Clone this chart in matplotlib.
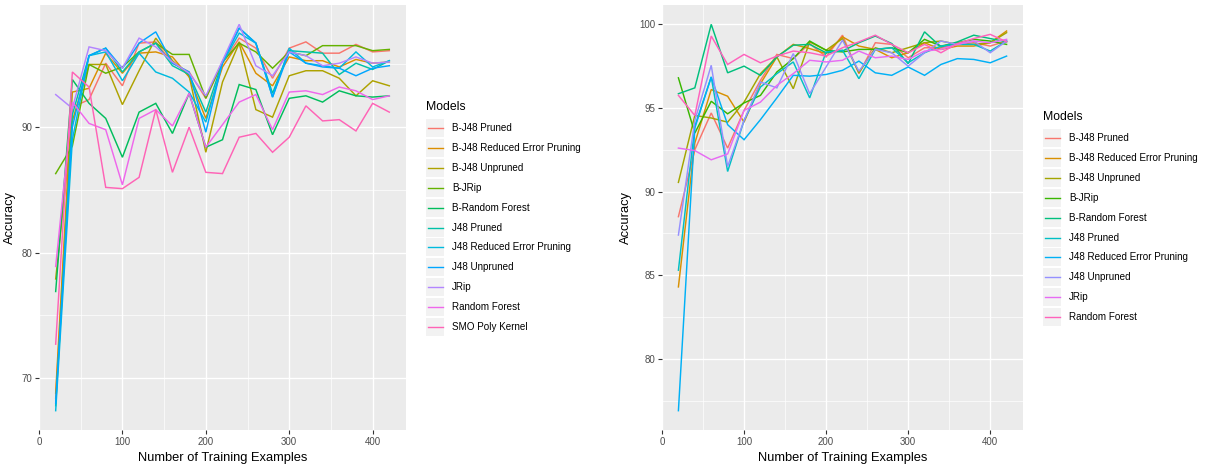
import matplotlib
matplotlib.use("Agg")
import matplotlib.pyplot as plt
from matplotlib.lines import Line2D
from matplotlib.patches import Rectangle
from matplotlib.ticker import MultipleLocator

plt.rcParams['font.family'] = ['Liberation Sans', 'DejaVu Sans']

# ---------------------------------------------------------------- data
train_sizes = list(range(20, 421, 20))

# Left panel: eleven models
left_models = ["B-J48 Pruned", "B-J48 Reduced Error Pruning", "B-J48 Unpruned",
               "B-JRip", "B-Random Forest", "J48 Pruned",
               "J48 Reduced Error Pruning", "J48 Unpruned", "JRip",
               "Random Forest", "SMO Poly Kernel"]

l_bj48_pruned = [68.4, 91.6, 92.2, 95.1, 93.3, 96.7, 96.8, 95.1, 94.4, 92.3, 95.1,
                 97.1, 96.3, 93.9, 96.3, 96.8, 95.9, 95.9, 96.6, 96.0, 96.1]
l_bj48_rep = [68.8, 92.8, 93.1, 95.9, 94.3, 95.9, 96.0, 95.6, 94.0, 90.7, 94.8,
              96.8, 94.3, 93.3, 95.6, 95.3, 95.3, 94.8, 95.4, 95.1, 95.2]
l_bj48_unpruned = [77.9, 90.5, 95.0, 95.0, 91.8, 94.5, 97.1, 95.3, 94.1, 88.0, 93.6,
                   96.7, 91.4, 90.8, 94.1, 94.5, 94.5, 93.9, 92.5, 93.7, 93.3]
l_bjrip = [86.3, 88.5, 95.0, 94.3, 94.8, 96.0, 96.7, 95.8, 95.8, 92.3, 95.2,
           96.7, 96.0, 94.7, 96.0, 95.7, 96.5, 96.5, 96.5, 96.1, 96.2]
l_brf = [76.9, 93.8, 91.9, 90.7, 87.6, 91.2, 91.9, 89.5, 92.7, 88.4, 89.0,
         93.4, 93.0, 89.4, 92.3, 92.5, 92.0, 92.9, 92.5, 92.4, 92.5]
l_j48_pruned = [67.8, 91.0, 95.7, 96.3, 94.4, 96.0, 96.7, 94.9, 94.2, 91.2, 95.2,
                97.9, 96.7, 92.7, 96.1, 96.0, 95.9, 94.2, 95.1, 94.6, 95.3]
l_j48_rep = [67.4, 89.0, 95.7, 96.0, 93.7, 95.9, 94.4, 93.9, 92.8, 90.4, 95.1,
             97.5, 96.7, 92.4, 96.3, 95.1, 94.9, 94.7, 96.0, 94.8, 95.3]
l_j48_unpruned = [68.0, 90.0, 95.7, 96.3, 94.7, 96.7, 97.6, 95.1, 94.4, 89.6, 95.2,
                  97.9, 96.7, 92.4, 96.0, 95.1, 94.8, 94.7, 94.1, 94.7, 94.9]
l_jrip = [92.6, 91.5, 96.4, 96.1, 94.7, 97.1, 96.4, 95.2, 94.3, 92.5, 95.3,
          98.2, 94.9, 94.1, 96.0, 95.7, 94.9, 95.1, 95.6, 95.1, 95.2]
l_rf = [78.9, 92.0, 90.3, 89.8, 85.4, 90.7, 91.4, 90.1, 92.7, 88.4, 90.2,
        92.0, 92.6, 89.8, 92.8, 92.9, 92.6, 93.2, 92.9, 92.2, 92.5]
l_smo = [72.7, 94.4, 93.2, 85.2, 85.1, 86.0, 91.4, 86.4, 90.0, 86.4, 86.3,
         89.2, 89.5, 88.0, 89.2, 91.7, 90.5, 90.6, 89.7, 91.9, 91.2]

left_series = [l_bj48_pruned, l_bj48_rep, l_bj48_unpruned, l_bjrip, l_brf,
               l_j48_pruned, l_j48_rep, l_j48_unpruned, l_jrip, l_rf, l_smo]

# Right panel: ten models
right_models = left_models[:10]

r_bj48_pruned = [88.5, 92.5, 94.7, 92.6, 94.85, 96.65, 98.2, 97.95, 98.85, 98.05, 99.35,
                 97.05, 98.9, 98.8, 98.0, 98.6, 98.6, 98.8, 98.9, 98.7, 99.0]
r_bj48_rep = [84.3, 92.9, 96.1, 95.7, 94.15, 96.45, 98.05, 98.8, 98.55, 98.25, 99.25,
              98.7, 98.5, 98.0, 98.3, 98.9, 98.5, 98.7, 98.7, 98.9, 99.6]
r_bj48_unpruned = [90.55, 94.55, 94.4, 94.15, 95.35, 97.05, 98.05, 96.15, 98.95, 98.45, 99.15,
                   97.1, 98.6, 98.3, 98.6, 98.9, 99.0, 98.8, 98.8, 98.9, 99.5]
r_bjrip = [96.8, 93.5, 95.4, 94.65, 95.3, 95.75, 97.15, 97.95, 99.0, 98.45, 98.35,
           98.5, 98.5, 98.6, 98.3, 99.1, 98.7, 98.9, 99.1, 99.0, 98.8]
r_brf = [95.85, 96.2, 100.0, 97.1, 97.5, 96.95, 98.05, 98.75, 98.8, 98.3, 98.4,
         98.9, 99.3, 98.85, 97.65, 99.55, 98.65, 98.95, 99.35, 99.15, 98.95]
r_j48_pruned = [85.3, 93.9, 96.85, 91.2, 94.25, 96.25, 97.05, 97.75, 95.6, 98.35, 98.45,
                96.75, 98.5, 98.6, 97.7, 98.3, 98.7, 98.8, 98.8, 98.4, 99.0]
r_j48_rep = [76.9, 93.8, 96.85, 94.0, 93.1, 94.3, 95.6, 96.95, 96.9, 97.0, 97.25,
             97.8, 97.1, 96.95, 97.45, 96.95, 97.6, 97.95, 97.9, 97.7, 98.1]
r_j48_unpruned = [87.4, 94.25, 97.55, 91.5, 94.25, 96.55, 96.2, 98.25, 95.85, 97.45, 99.05,
                  97.2, 98.5, 98.3, 97.5, 98.3, 99.0, 98.8, 99.0, 98.3, 99.0]
r_jrip = [92.6, 92.45, 91.9, 92.25, 94.85, 95.35, 96.35, 97.05, 97.85, 97.75, 97.85,
          98.4, 98.0, 98.1, 97.9, 98.4, 98.5, 98.8, 99.0, 98.9, 99.1]
r_rf = [95.75, 94.55, 99.3, 97.6, 98.2, 97.7, 98.1, 98.4, 98.3, 98.1, 98.6,
        98.95, 99.35, 98.8, 98.3, 98.8, 98.3, 98.85, 99.15, 99.4, 98.95]

right_series = [r_bj48_pruned, r_bj48_rep, r_bj48_unpruned, r_bjrip, r_brf,
                r_j48_pruned, r_j48_rep, r_j48_unpruned, r_jrip, r_rf]

# default hue palettes (11 and 10 levels)
left_colors = ["#F8766D", "#DB8E00", "#AEA200", "#64B200", "#00BD5C", "#00C1A7",
               "#00BADE", "#00A6FF", "#B385FF", "#EF67EB", "#FF63B6"]
right_colors = ["#F8766D", "#D89000", "#A3A500", "#39B600", "#00BF7D", "#00BFC4",
                "#00B0F6", "#9590FF", "#E76BF3", "#FF62BC"]

# ---------------------------------------------------------------- figure
W, H = 1207, 472
fig = plt.figure(figsize=(W / 100, H / 100), dpi=100)


def fx(px):
    return px / W


def fy(py):
    return 1 - py / H


def panel(x0, x1, y0, y1):
    return fig.add_axes([fx(x0), fy(y1), fx(x1) - fx(x0), fy(y0) - fy(y1)])


def style(ax, series, colors, ymajor, yminor, ylabel_x):
    for s, c in zip(series, colors):
        ax.plot(train_sizes, s, color=c, lw=1.05, solid_joinstyle='miter')
    ax.set_facecolor('#EBEBEB')
    for sp in ax.spines.values():
        sp.set_visible(False)
    ax.set_axisbelow(True)
    ax.xaxis.set_major_locator(MultipleLocator(100))
    ax.xaxis.set_minor_locator(MultipleLocator(50))
    ax.yaxis.set_major_locator(MultipleLocator(ymajor))
    ax.yaxis.set_minor_locator(MultipleLocator(yminor))
    ax.grid(which='major', color='white', lw=1.0)
    ax.grid(which='minor', color='white', lw=0.5)
    ax.tick_params(which='major', length=3, width=0.8, color='#333333',
                   labelcolor='#4D4D4D', labelsize=7, pad=2)
    ax.tick_params(which='minor', length=0)
    ax.set_xlim(0, 440)
    allv = [v for s in series for v in s]
    lo, hi = min(allv), max(allv)
    pad = 0.05 * (hi - lo)
    ax.set_ylim(lo - pad, hi + pad)
    ax.set_xlabel('Number of Training Examples', fontsize=9.3, color='black')
    ax.set_ylabel('Accuracy', fontsize=9.3, color='black')
    ax.xaxis.set_label_coords(0.5, -0.052)
    ax.yaxis.set_label_coords(ylabel_x, 0.5)


def legend(names, colors, x0, title_y, first_y, step=19.84):
    fig.text(fx(x0), fy(title_y), 'Models', fontsize=8.8, ha='left',
             va='center', color='black')
    for i, (n, c) in enumerate(zip(names, colors)):
        yc = first_y + i * step
        fig.add_artist(Rectangle((fx(x0), fy(yc + 9)), 18 / W, 18 / H,
                                 transform=fig.transFigure, facecolor='#F2F2F2',
                                 edgecolor='none'))
        fig.add_artist(Line2D([fx(x0 + 1.5), fx(x0 + 16.5)], [fy(yc), fy(yc)],
                              transform=fig.transFigure, color=c, lw=1.0))
        fig.text(fx(x0 + 26), fy(yc), n, fontsize=7.15, ha='left', va='center',
                 color='black')


axL = panel(39, 406, 5, 430)
style(axL, left_series, left_colors, 10, 5, -0.062)
legend(left_models, left_colors, 426, 106.5, 128.4)

axR = panel(662, 1023, 5, 430)
style(axR, right_series, right_colors, 5, 2.5, -0.082)
legend(right_models, right_colors, 1043, 116.5, 138.4)

fig.savefig('out.png', dpi=100, facecolor='white')
